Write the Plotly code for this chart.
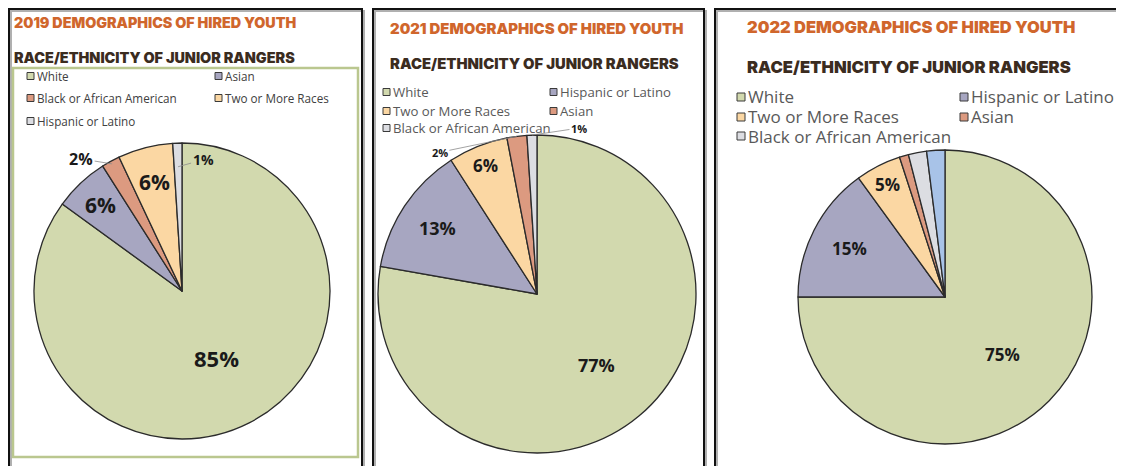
import math
import plotly.graph_objects as go

W, H = 1124, 466
OX, OY = 8, 8  # page body margin offset

# ---------------- data ----------------
years = ["2019", "2021", "2022"]

cats_2019 = ["White", "Asian", "Black or African American", "Two or More Races", "Hispanic or Latino"]
vals_2019 = [85, 6, 2, 6, 1]

cats_2021 = ["White", "Hispanic or Latino", "Two or More Races", "Asian", "Black or African American"]
vals_2021 = [77, 13, 6, 2, 1]

cats_2022 = ["White", "Hispanic or Latino", "Two or More Races", "Asian", "Black or African American", "Other"]
vals_2022 = [75, 15, 5, 1, 2, 2]
legend_2022 = cats_2022[:5]

title_text = "{} DEMOGRAPHICS OF HIRED YOUTH"
subtitle_text = "RACE/ETHNICITY OF JUNIOR RANGERS"

# ---------------- styles ----------------
GREEN = "#d2d9ae"
PURPLE = "#a7a6c1"
SALMON = "#dc9a80"
PEACH = "#fbd7a3"
LGRAY = "#dcdde2"
BLUE = "#a8c3e8"

colors_2019 = [GREEN, PURPLE, SALMON, PEACH, LGRAY]
colors_2021 = [GREEN, PURPLE, PEACH, SALMON, LGRAY]
colors_2022 = [GREEN, PURPLE, PEACH, SALMON, LGRAY, BLUE]


def pxx(x):
    return (x - OX) / W


def pyy(y):
    return 1 - (y - OY) / H


panels = [
    dict(cats=cats_2019, vals=vals_2019, colors=colors_2019, legend=cats_2019,
         center=(182, 291), r=148,
         title_pos=(12, 22, 14.3), sub_pos=(12, 58, 14.4),
         leg=dict(x0=27, col=188, rows=[76, 98, 121], sq=7, size=11.7, color="#404040"),
         inside={0: (0.51, 22), 1: (0.80, 21), 3: (0.76, 21)},
         leader={2: (0.98, -31, -5, 16), 4: (0.84, 25, -7, 14)}),
    dict(cats=cats_2021, vals=vals_2021, colors=colors_2021, legend=cats_2021,
         center=(537, 294), r=159,
         title_pos=(388, 29, 14.9), sub_pos=(388, 64, 14.8),
         leg=dict(x0=383, col=167, rows=[92, 111, 128], sq=7, size=13.2, color="#595959"),
         inside={0: (0.58, 18), 1: (0.75, 18), 2: (0.87, 17)},
         leader={3: (1.0, -77, 16, 11), 4: (1.0, 47, -7, 11)}),
    dict(cats=cats_2022, vals=vals_2022, colors=colors_2022, legend=legend_2022,
         center=(945, 297), r=147,
         title_pos=(745, 27, 16.5), sub_pos=(745, 67, 16.6),
         leg=dict(x0=737, col=223, rows=[97, 117, 136], sq=8, size=17, color="#595959"),
         inside={0: (0.55, 17), 1: (0.73, 17), 2: (0.86, 17)},
         leader={}),
]

fig = go.Figure()
shapes = []
annotations = []

# panel frames (with light shadow); top/left clamped to the drawable area
frames = [(9, 362), (373, 704), (715, 1135)]
top = 9
for (x0, x1) in frames:
    shapes.append(dict(type="rect", xref="paper", yref="paper",
                       x0=pxx(x0 + 2), x1=pxx(x1 + 2), y0=pyy(490), y1=pyy(top + 2),
                       line=dict(color="#b0b0b0", width=2), fillcolor="rgba(0,0,0,0)", layer="below"))
    shapes.append(dict(type="rect", xref="paper", yref="paper",
                       x0=pxx(x0), x1=pxx(x1), y0=pyy(490), y1=pyy(top),
                       line=dict(color="#111111", width=2), fillcolor="rgba(0,0,0,0)", layer="below"))

# green inner box of the first panel
shapes.append(dict(type="rect", xref="paper", yref="paper",
                   x0=pxx(13), x1=pxx(358), y0=pyy(457), y1=pyy(68),
                   line=dict(color="#bac78f", width=2.5), fillcolor="rgba(0,0,0,0)", layer="below"))

for yr, p in zip(years, panels):
    cx, cy = p["center"]
    r = p["r"]
    fig.add_trace(go.Pie(
        labels=p["cats"], values=p["vals"], sort=False, direction="clockwise", rotation=0,
        marker=dict(colors=p["colors"], line=dict(color="#2b2b2b", width=1.3)),
        textinfo="none", showlegend=False, hoverinfo="label+value",
        domain=dict(x=[pxx(cx - r), pxx(cx + r)], y=[pyy(cy + r), pyy(cy - r)]),
    ))

    # titles
    tx, ty, ts = p["title_pos"]
    annotations.append(dict(text=title_text.format(yr), x=pxx(tx), y=pyy(ty), xref="paper", yref="paper",
                            xanchor="left", yanchor="middle", showarrow=False,
                            font=dict(family="Inter", size=ts, color="#d0662c", weight=900)))
    sx, sy, ss = p["sub_pos"]
    annotations.append(dict(text=subtitle_text, x=pxx(sx), y=pyy(sy), xref="paper", yref="paper",
                            xanchor="left", yanchor="middle", showarrow=False,
                            font=dict(family="Inter", size=ss, color="#3b2c1f", weight=900)))

    # legend
    lg = p["leg"]
    for i, name in enumerate(p["legend"]):
        row, col = divmod(i, 2)
        x0 = lg["x0"] + col * lg["col"]
        yc = lg["rows"][row]
        s = lg["sq"]
        shapes.append(dict(type="rect", xref="paper", yref="paper",
                           x0=pxx(x0), x1=pxx(x0 + s), y0=pyy(yc + s / 2), y1=pyy(yc - s / 2),
                           line=dict(color="#3a3a3a", width=1), fillcolor=p["colors"][i]))
        annotations.append(dict(text=name, x=pxx(x0 + s + 1), y=pyy(yc), xref="paper", yref="paper",
                                xanchor="left", yanchor="middle", showarrow=False,
                                font=dict(family="Open Sans", size=lg["size"], color=lg["color"])))

    # slice labels computed from the values
    total = sum(p["vals"])
    cum = 0.0
    mids = []
    for v in p["vals"]:
        mids.append((cum + v / 2) / total * 360.0)
        cum += v
    for i, (f, size) in p["inside"].items():
        th = math.radians(mids[i])
        x = cx + f * r * math.sin(th)
        y = cy - f * r * math.cos(th)
        annotations.append(dict(text=f"{p['vals'][i]}%", x=pxx(x), y=pyy(y), xref="paper", yref="paper",
                                showarrow=False, xanchor="center", yanchor="middle",
                                font=dict(family="Open Sans", size=size, color="#1a1a1a", weight=700)))
    for i, (f, ax, ay, size) in p["leader"].items():
        th = math.radians(mids[i])
        x = cx + f * r * math.sin(th)
        y = cy - f * r * math.cos(th)
        annotations.append(dict(text=f"{p['vals'][i]}%", x=pxx(x), y=pyy(y), xref="paper", yref="paper",
                                showarrow=True, arrowhead=0, arrowwidth=0.8, arrowcolor="#8c8c8c",
                                ax=ax, ay=ay, standoff=0,
                                font=dict(family="Open Sans", size=size, color="#1a1a1a", weight=700)))

fig.update_layout(
    width=W, height=H, margin=dict(l=0, r=0, t=0, b=0),
    paper_bgcolor="white", plot_bgcolor="white",
    shapes=shapes, annotations=annotations, showlegend=False,
)

fig.write_html("out.html")
